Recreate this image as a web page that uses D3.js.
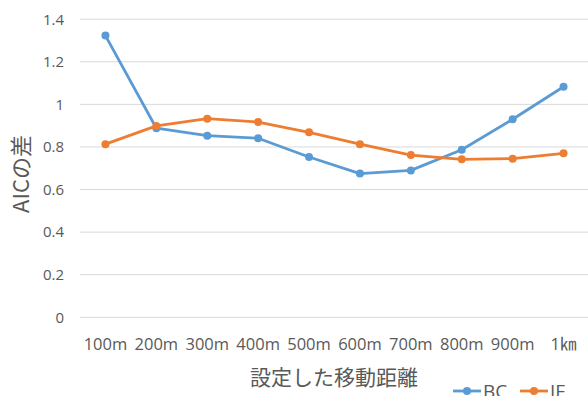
<!DOCTYPE html>
<html>
<head>
<meta charset="utf-8">
<script src="https://cdn.jsdelivr.net/npm/d3@7"></script>
<style>
  html, body { margin: 0; padding: 0; background: #fff; }
  svg { display: block; font-family: "Noto Sans CJK JP", "Noto Sans", sans-serif; }
</style>
</head>
<body>
<svg id="chart" width="588" height="396"></svg>
<script>
// Distance categories and the AIC difference for each model
const categories = ["100m", "200m", "300m", "400m", "500m", "600m", "700m", "800m", "900m", "1㎞"];
const bcValues = [1.323, 0.888, 0.853, 0.841, 0.753, 0.675, 0.690, 0.787, 0.930, 1.083];
const ifValues = [0.813, 0.899, 0.933, 0.917, 0.869, 0.813, 0.762, 0.742, 0.745, 0.770];
const yTicks = [0, 0.2, 0.4, 0.6, 0.8, 1, 1.2, 1.4];
const seriesNames = ["BC", "IF"];
const seriesColors = ["#5B9BD5", "#ED7D31"];

const svg = d3.select("#chart");
const plotLeft = 80, plotRight = 589, plotTop = 19.2, plotBottom = 317.3;

const x = d3.scaleBand().domain(categories).range([plotLeft, plotRight]);
const y = d3.scaleLinear().domain([0, 1.4]).range([plotBottom, plotTop]);

// Horizontal gridlines
svg.append("g").selectAll("line").data(yTicks).join("line")
  .attr("x1", plotLeft).attr("x2", plotRight)
  .attr("y1", d => y(d)).attr("y2", d => y(d))
  .attr("stroke", "#D9D9D9").attr("stroke-width", 1);

// Y axis labels
const yAxis = d3.axisLeft(y).tickValues(yTicks).tickSize(0).tickPadding(0)
  .tickFormat(d => String(d));
svg.append("g").attr("transform", `translate(${plotLeft - 16},0)`).call(yAxis)
  .call(g => g.select(".domain").remove())
  .selectAll("text").attr("fill", "#595959").attr("font-size", 15)
  .attr("font-family", "'Open Sans', 'Noto Sans', sans-serif");

// X axis labels
const xAxis = d3.axisBottom(x).tickSize(0).tickPadding(0);
svg.append("g").attr("transform", `translate(0,${plotBottom + 20.5})`).call(xAxis)
  .call(g => g.select(".domain").remove())
  .selectAll("text").attr("fill", "#595959").attr("font-size", 16.5)
  .attr("font-family", "'Open Sans', 'Noto Sans CJK JP', sans-serif");

// Axis titles
svg.append("text").attr("x", 334).attr("y", 385)
  .attr("text-anchor", "middle").attr("fill", "#595959").attr("font-size", 21)
  .text("設定した移動距離");
svg.append("text").attr("transform", "translate(29,174) rotate(-90)")
  .attr("text-anchor", "middle").attr("fill", "#595959").attr("font-size", 22)
  .text("AICの差");

// Series lines and markers
const series = [bcValues, ifValues];
const line = d3.line().x((d, i) => x(categories[i]) + x.bandwidth() / 2).y(d => y(d));
series.forEach((vals, s) => {
  const g = svg.append("g");
  g.append("path").datum(vals).attr("d", line)
    .attr("fill", "none").attr("stroke", seriesColors[s])
    .attr("stroke-width", 2.8).attr("stroke-linejoin", "round");
  g.selectAll("circle").data(vals).join("circle")
    .attr("cx", (d, i) => x(categories[i]) + x.bandwidth() / 2)
    .attr("cy", d => y(d)).attr("r", 4)
    .attr("fill", seriesColors[s]);
});

// Legend
const legendX = [453, 520];
seriesNames.forEach((name, s) => {
  const g = svg.append("g").attr("transform", `translate(${legendX[s]},391)`);
  g.append("line").attr("x1", 0).attr("x2", 28).attr("y1", 0).attr("y2", 0)
    .attr("stroke", seriesColors[s]).attr("stroke-width", 2.8);
  g.append("circle").attr("cx", 14).attr("cy", 0).attr("r", 4).attr("fill", seriesColors[s]);
  g.append("text").attr("x", 30).attr("y", 7).attr("fill", "#595959")
    .attr("font-size", 19).attr("font-family", "'Open Sans', sans-serif").text(name);
});
</script>
</body>
</html>
